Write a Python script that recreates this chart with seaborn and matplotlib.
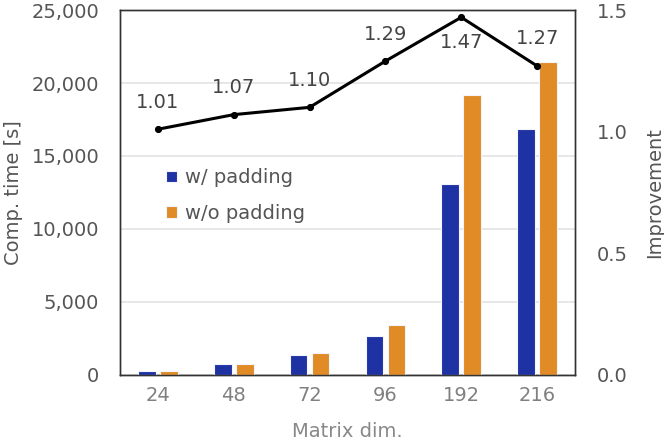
import pandas as pd
import matplotlib
matplotlib.use('Agg')
import matplotlib.pyplot as plt
from matplotlib.ticker import FuncFormatter
import seaborn as sns

dims = ['24', '48', '72', '96', '192', '216']
with_pad = [255, 730, 1370, 2650, 13050, 16880]
without_pad = [260, 775, 1505, 3420, 19150, 21420]
improvement = [1.01, 1.07, 1.10, 1.29, 1.47, 1.27]
labels = ['w/ padding', 'w/o padding']

sns.set_style('white')
plt.rcParams['font.family'] = ['DejaVu Sans']

df = pd.DataFrame({'dim': dims * 2,
                   'time': with_pad + without_pad,
                   'kind': [labels[0]] * len(dims) + [labels[1]] * len(dims)})

fig = plt.figure(figsize=(6.64, 4.41), dpi=100)
ax = fig.add_axes([0.1807, 0.1497, 0.6853, 0.8276])

sns.barplot(data=df, x='dim', y='time', hue='kind', hue_order=labels,
            palette=['#1f32a3', '#e08b25'], saturation=1, width=0.58, gap=0.2,
            edgecolor='#f4f4ff', linewidth=0.8, ax=ax, zorder=3)

ax.set_ylim(0, 25000)
ax.set_xlim(-0.5, 5.5)
ax.yaxis.set_major_formatter(FuncFormatter(lambda v, p: f'{int(v):,}'))
ax.grid(axis='y', color='#e3e3e3', linewidth=1.2, zorder=0)
ax.set_axisbelow(True)
ax.tick_params(length=0, labelsize=14)
ax.tick_params(axis='y', colors='#555555', pad=15)
ax.tick_params(axis='x', colors='#808080', pad=8)
ax.set_xlabel('Matrix dim.', fontsize=14, color='#888888', labelpad=12)
ax.set_ylabel('Comp. time [s]', fontsize=14, color='#555555', labelpad=6)
for s in ax.spines.values():
    s.set_color('#333333')
    s.set_linewidth(1.0)

leg = ax.legend(loc='upper left', bbox_to_anchor=(0.063, 0.614), frameon=False,
                fontsize=14, handlelength=0.55, handleheight=0.55,
                handletextpad=0.4, labelspacing=0.85)
for t in leg.get_texts():
    t.set_color('#555555')

ax2 = ax.twinx()
sns.pointplot(x=dims, y=improvement, color='black', markers='o',
              linewidth=2.2, markersize=3.5, ax=ax2)
ax2.set_ylim(0, 1.5)
ax2.set_yticks([0, 0.5, 1.0, 1.5])
ax2.set_yticklabels(['0.0', '0.5', '1.0', '1.5'])
ax2.tick_params(length=0, labelsize=14, colors='#555555', pad=16)
ax2.set_ylabel('Improvement', fontsize=14, color='#555555', labelpad=12)
for s in ax2.spines.values():
    s.set_color('#333333')
    s.set_linewidth(1.0)

for i, v in enumerate(improvement):
    off = -25 if v == max(improvement) else 27
    ax2.annotate(f'{v:.2f}', (i, v), xytext=(0, off), textcoords='offset pixels',
                 ha='center', va='center', fontsize=14, color='#444444')

fig.savefig('out.png', dpi=100)
